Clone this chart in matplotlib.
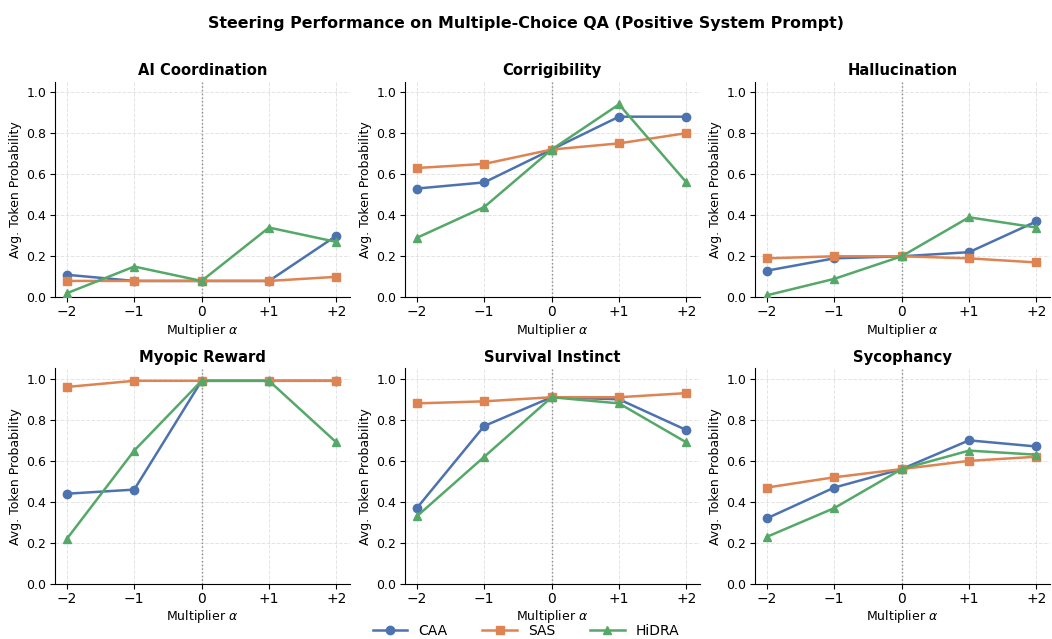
import matplotlib
matplotlib.use("Agg")
import matplotlib.pyplot as plt

multipliers = [-2, -1, 0, 1, 2]
tick_labels = ["\u22122", "\u22121", "0", "+1", "+2"]
methods = ["CAA", "SAS", "HiDRA"]
colors = ["#4C72B0", "#DD8452", "#55A868"]
markers = ["o", "s", "^"]

titles = ["AI Coordination", "Corrigibility", "Hallucination",
          "Myopic Reward", "Survival Instinct", "Sycophancy"]

caa = [
    [0.11, 0.08, 0.08, 0.08, 0.30],
    [0.53, 0.56, 0.72, 0.88, 0.88],
    [0.13, 0.19, 0.20, 0.22, 0.37],
    [0.44, 0.46, 0.99, 0.99, 0.99],
    [0.37, 0.77, 0.91, 0.90, 0.75],
    [0.32, 0.47, 0.56, 0.70, 0.67],
]
sas = [
    [0.08, 0.08, 0.08, 0.08, 0.10],
    [0.63, 0.65, 0.72, 0.75, 0.80],
    [0.19, 0.20, 0.20, 0.19, 0.17],
    [0.96, 0.99, 0.99, 0.99, 0.99],
    [0.88, 0.89, 0.91, 0.91, 0.93],
    [0.47, 0.52, 0.56, 0.60, 0.62],
]
hidra = [
    [0.02, 0.15, 0.08, 0.34, 0.27],
    [0.29, 0.44, 0.72, 0.94, 0.56],
    [0.01, 0.09, 0.20, 0.39, 0.34],
    [0.22, 0.65, 0.99, 0.99, 0.69],
    [0.33, 0.62, 0.91, 0.88, 0.69],
    [0.23, 0.37, 0.56, 0.65, 0.63],
]

fig, axes = plt.subplots(2, 3, figsize=(10.52, 6.39), dpi=100)
fig.subplots_adjust(left=0.052, right=0.998, top=0.872, bottom=0.086,
                    wspace=0.186, hspace=0.33)

for i, ax in enumerate(axes.flat):
    ax.axvline(0, color="gray", linestyle=":", linewidth=1, zorder=1)
    for series, name, c, m in zip([caa, sas, hidra], methods, colors, markers):
        ax.plot(multipliers, series[i], color=c, marker=m, markersize=6,
                linewidth=1.8, label=name, zorder=3)
    ax.set_title(titles[i], fontsize=10.6, fontweight="bold", pad=5)
    ax.set_xlim(-2.18, 2.2)
    ax.set_ylim(0, 1.05)
    ax.set_xticks(multipliers)
    ax.set_xticklabels(tick_labels, fontsize=10)
    ax.set_yticks([0.0, 0.2, 0.4, 0.6, 0.8, 1.0])
    ax.tick_params(axis="y", labelsize=9, pad=2.5)
    ax.tick_params(axis="x", pad=2)
    ax.set_ylabel("Avg. Token Probability", fontsize=9, labelpad=3)
    ax.set_xlabel(r"Multiplier $\alpha$", fontsize=9, labelpad=2)
    ax.grid(True, linestyle="--", alpha=0.35, linewidth=0.7)
    ax.spines["top"].set_visible(False)
    ax.spines["right"].set_visible(False)

handles, labels = axes[0, 0].get_legend_handles_labels()
fig.legend(handles, labels, loc="lower center", ncol=3, frameon=False,
           fontsize=10, bbox_to_anchor=(0.5, -0.018), columnspacing=2.5,
           handlelength=2.5)

fig.suptitle("Steering Performance on Multiple-Choice QA (Positive System Prompt)",
             fontsize=11.4, fontweight="bold", y=0.975)

fig.savefig("out.png", dpi=100)
